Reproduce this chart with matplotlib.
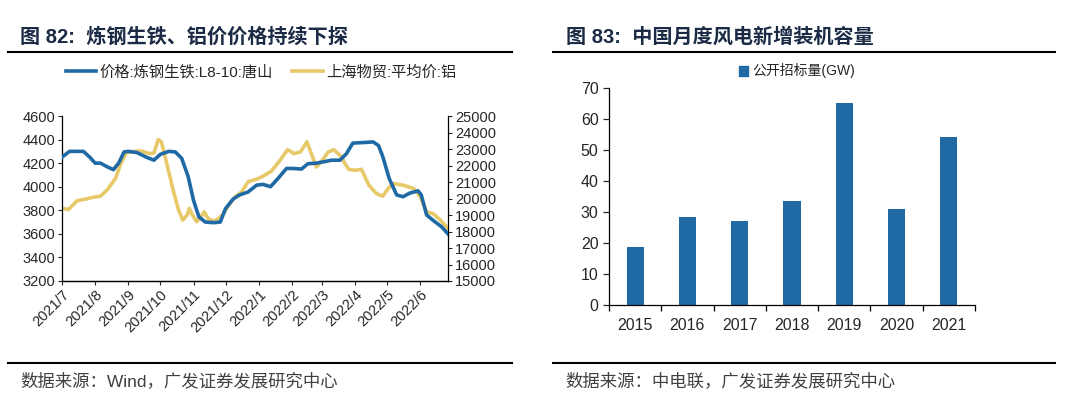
import matplotlib
matplotlib.use("Agg")
import matplotlib.pyplot as plt
import matplotlib.dates as mdates
import pandas as pd
from matplotlib.lines import Line2D
from matplotlib.patches import Patch

plt.rcParams['font.family'] = ['Liberation Sans', 'Noto Sans CJK SC']
plt.rcParams['axes.unicode_minus'] = False

# Left chart: pig iron (Tangshan) price, weekly-ish reading off the picture
iron_dates = ['2021-07-01', '2021-07-08', '2021-07-21', '2021-07-27', '2021-08-01', '2021-08-06',
              '2021-08-12', '2021-08-18', '2021-08-23', '2021-08-28', '2021-09-01', '2021-09-09',
              '2021-09-18', '2021-09-25', '2021-10-01', '2021-10-09', '2021-10-15', '2021-10-21',
              '2021-10-27', '2021-11-01', '2021-11-06', '2021-11-12', '2021-11-20', '2021-11-26',
              '2021-12-01', '2021-12-08', '2021-12-14', '2021-12-22', '2021-12-30', '2022-01-05',
              '2022-01-12', '2022-01-19', '2022-01-27', '2022-02-02', '2022-02-10', '2022-02-16',
              '2022-02-24', '2022-03-02', '2022-03-10', '2022-03-18', '2022-03-24', '2022-03-30',
              '2022-04-09', '2022-04-18', '2022-04-23', '2022-04-27', '2022-05-03', '2022-05-10',
              '2022-05-16', '2022-05-22', '2022-05-30', '2022-06-02', '2022-06-07', '2022-06-13',
              '2022-06-21', '2022-06-27']
iron_price = [4250, 4300, 4300, 4250, 4200, 4200, 4170, 4145, 4200, 4295, 4300, 4290,
              4250, 4225, 4275, 4300, 4295, 4240, 4085, 3885, 3745, 3700, 3695, 3700,
              3815, 3895, 3930, 3955, 4013, 4020, 4000, 4070, 4155, 4155, 4150, 4195,
              4200, 4210, 4225, 4225, 4280, 4370, 4375, 4380, 4350, 4255, 4070, 3930,
              3915, 3945, 3965, 3930, 3760, 3715, 3660, 3600]

# Shanghai aluminium average price
alu_dates = ['2021-07-01', '2021-07-07', '2021-07-15', '2021-07-24', '2021-08-01', '2021-08-06',
             '2021-08-12', '2021-08-20', '2021-08-25', '2021-08-30', '2021-09-07', '2021-09-13',
             '2021-09-21', '2021-09-25', '2021-09-29', '2021-10-02', '2021-10-07', '2021-10-13',
             '2021-10-18', '2021-10-22', '2021-10-26', '2021-10-28', '2021-10-31', '2021-11-04',
             '2021-11-09', '2021-11-11', '2021-11-15', '2021-11-21', '2021-11-28', '2021-12-04',
             '2021-12-10', '2021-12-16', '2021-12-22', '2021-12-30', '2022-01-05', '2022-01-13',
             '2022-01-21', '2022-01-28', '2022-02-03', '2022-02-09', '2022-02-15', '2022-02-18',
             '2022-02-24', '2022-03-01', '2022-03-07', '2022-03-12', '2022-03-18', '2022-03-26',
             '2022-04-01', '2022-04-07', '2022-04-14', '2022-04-21', '2022-04-27', '2022-05-02',
             '2022-05-07', '2022-05-16', '2022-05-26', '2022-06-01', '2022-06-07', '2022-06-13',
             '2022-06-20', '2022-06-27']
alu_price = [19400, 19330, 19860, 19980, 20100, 20140, 20500, 21210, 22120, 22760, 22860, 22880,
             22720, 22760, 23570, 23430, 22120, 20500, 19300, 18690, 18990, 19400, 18990, 18590,
             18990, 19190, 18750, 18630, 18990, 19600, 20100, 20400, 21010, 21170, 21350, 21670,
             22320, 22960, 22720, 22820, 23430, 22920, 21910, 22280, 22820, 22960, 22620, 21770,
             21710, 21770, 20810, 20300, 20140, 20600, 20910, 20810, 20600, 20100, 19190, 19090,
             18690, 18190]

# Right chart: wind power public tender volume
years = ['2015', '2016', '2017', '2018', '2019', '2020', '2021']
tender_gw = [18.7, 28.3, 27.1, 33.4, 65.2, 31.0, 54.2]

blue = '#1f6aa5'
yellow = '#e8c96a'
title_color = '#1c2b45'
txt = '#262626'

W, H = 1080, 405
fig = plt.figure(figsize=(W / 100, H / 100), dpi=100)


def px_axes(x0, y0, x1, y1):
    return fig.add_axes([x0 / W, 1 - y1 / H, (x1 - x0) / W, (y1 - y0) / H])


def header(x_text, x0, x1, title):
    fig.text(x_text / W, 1 - 37 / H, title, fontsize=14.5, fontweight='bold',
             color=title_color, va='center', ha='left')
    fig.add_artist(Line2D([x0 / W, x1 / W], [1 - 52 / H] * 2, color='black', lw=1.5))
    fig.add_artist(Line2D([x0 / W, x1 / W], [1 - 363 / H] * 2, color='black', lw=1.5))


def footer(x_text, source):
    fig.text(x_text / W, 1 - 381 / H, source, fontsize=12.5, color='#404040',
             va='center', ha='left')


header(20, 8, 512, '图 82:  炼钢生铁、铝价价格持续下探')
header(566, 553, 1055, '图 83:  中国月度风电新增装机容量')
footer(20, '数据来源：Wind，广发证券发展研究中心')
footer(565, '数据来源：中电联，广发证券发展研究中心')

# ---- left chart
ax = px_axes(62, 116, 448, 281)
ax2 = ax.twinx()
d_iron = pd.to_datetime(iron_dates)
d_alu = pd.to_datetime(alu_dates)
ax2.plot(d_alu, alu_price, color=yellow, lw=2.6, solid_joinstyle='round', zorder=2)
ax.plot(d_iron, iron_price, color=blue, lw=2.6, solid_joinstyle='round', zorder=3)
ax.set_zorder(ax2.get_zorder() + 1)
ax.patch.set_visible(False)

ax.set_ylim(3200, 4600)
ax.set_yticks(range(3200, 4601, 200))
ax2.set_ylim(15000, 25000)
ax2.set_yticks(range(15000, 25001, 1000))
ax.set_xlim(pd.Timestamp('2021-07-01'), pd.Timestamp('2022-06-27'))
ax.xaxis.set_major_locator(mdates.MonthLocator())
ax.xaxis.set_major_formatter(mdates.DateFormatter('%Y/%-m'))
for a in (ax, ax2):
    a.spines['top'].set_visible(False)
    a.tick_params(labelsize=10.5, colors=txt, length=3, width=0.8, pad=2)
    for s in a.spines.values():
        s.set_linewidth(0.9)
ax.spines['right'].set_visible(False)
ax2.spines['left'].set_visible(False)
for lab in ax.get_xticklabels():
    lab.set_rotation(45)
    lab.set_ha('right')
    lab.set_rotation_mode('anchor')

leg_handles = [Line2D([], [], color=blue, lw=2.6), Line2D([], [], color=yellow, lw=2.6)]
fig.legend(leg_handles, ['价格:炼钢生铁:L8-10:唐山', '上海物贸:平均价:铝'],
           loc='center', bbox_to_anchor=(261 / W, 1 - 72 / H), ncol=2, frameon=False,
           fontsize=11, handlelength=2.0, handletextpad=0.2, columnspacing=1.3,
           labelcolor=txt)

# ---- right chart
bx = px_axes(609, 88, 975, 305)
x = range(len(years))
bx.bar(x, tender_gw, width=0.33, color=blue, zorder=2)
bx.set_xlim(-0.5, len(years) - 0.5)
bx.set_ylim(0, 70)
bx.set_yticks(range(0, 71, 10))
bx.set_xticks(list(x))
bx.set_xticklabels(years)
bx.set_xticks([i - 0.5 for i in range(len(years) + 1)], minor=True)
bx.tick_params(axis='x', which='major', length=0, pad=9)
bx.tick_params(axis='x', which='minor', length=4, width=0.9)
bx.tick_params(axis='y', length=4, width=0.9)
bx.tick_params(labelsize=11.5, colors=txt)
for s in ('top', 'right'):
    bx.spines[s].set_visible(False)
for s in ('left', 'bottom'):
    bx.spines[s].set_linewidth(0.9)
bx.legend([Patch(color=blue)], ['公开招标量(GW)'], loc='center',
          bbox_to_anchor=(797 / W, 1 - 71 / H), bbox_transform=fig.transFigure,
          frameon=False, fontsize=10, handlelength=0.7, handleheight=0.7,
          handletextpad=0.3, labelcolor=txt)

fig.savefig('out.png', dpi=100)
